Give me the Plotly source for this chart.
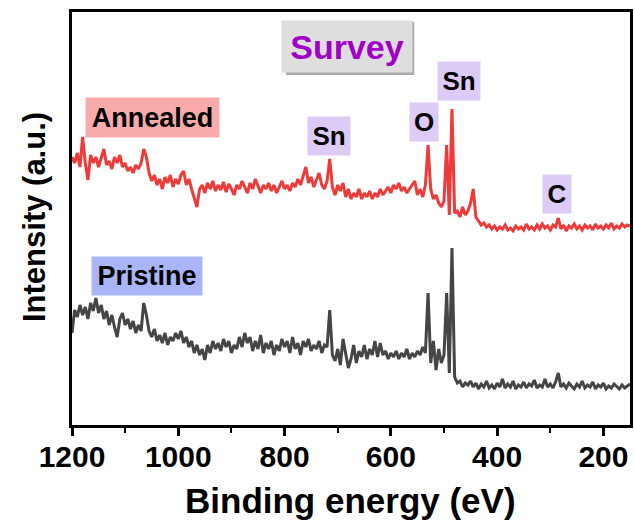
import plotly.graph_objects as go

# Binding energy grid (eV), 1200 -> 150 in 5 eV steps
energy = list(range(1200, 149, -5))

# Annealed (red) intensity, a.u., one value per grid point
annealed = [
    268, 262, 272, 258, 288, 262, 245, 270, 262, 268,   # 1200-1155
    258, 266, 276, 260, 264, 256, 268, 262, 270, 258,   # 1150-1105
    262, 254, 258, 252, 260, 256, 262, 276, 268, 252,   # 1100-1055
    244, 250, 240, 246, 236, 248, 242, 250, 238, 246,   # 1050-1005
    241, 250, 254, 240, 246, 236, 228, 218, 236, 240,   # 1000-955
    232, 242, 236, 244, 234, 240, 235, 243, 233, 241,   # 950-905
    236, 230, 240, 236, 244, 238, 232, 242, 236, 246,   # 900-855
    238, 232, 240, 236, 242, 234, 240, 232, 238, 244,   # 850-805
    236, 240, 234, 242, 238, 246, 240, 250, 258, 242,   # 800-755
    248, 238, 246, 252, 240, 236, 244, 266, 238, 230,   # 750-705
    240, 234, 242, 228, 236, 226, 232, 228, 236, 226,   # 700-655
    232, 228, 234, 226, 232, 228, 236, 230, 234, 238,   # 650-605
    232, 240, 236, 242, 234, 238, 232, 236, 240, 244,   # 600-555
    230, 236, 228, 240, 280, 236, 226, 230, 222, 218,   # 550-505
    224, 280, 210, 316, 212, 214, 208, 218, 210, 214,   # 500-455
    222, 236, 208, 204, 200, 202, 198, 200, 196, 199,   # 450-405
    195, 198, 196, 200, 195, 197, 194, 199, 196, 198,   # 400-355
    195, 201, 196, 198, 195, 200, 196, 201, 197, 199,   # 350-305
    195, 200, 198, 207, 196, 200, 194, 199, 197, 201,   # 300-255
    196, 199, 195, 200, 197, 199, 195, 201, 197, 199,   # 250-205
    196, 200, 197, 202, 196, 199, 197, 201, 198, 200,   # 200-155
    199,                                                # 150
]

# Pristine (dark grey) intensity, a.u.
pristine = [
    92, 115, 108, 120, 110, 118, 106, 122, 114, 127,    # 1200-1155
    112, 120, 106, 114, 100, 110, 98, 88, 106, 112,     # 1150-1105
    100, 106, 96, 104, 92, 100, 94, 122, 110, 94,       # 1100-1055
    88, 96, 84, 90, 82, 92, 80, 88, 84, 92,             # 1050-1005
    86, 94, 82, 88, 78, 84, 72, 80, 70, 76,             # 1000-955
    65, 80, 72, 84, 76, 82, 74, 86, 78, 84,             # 950-905
    72, 80, 76, 88, 78, 92, 82, 88, 74, 84,             # 900-855
    76, 90, 72, 82, 76, 84, 70, 80, 74, 86,             # 850-805
    78, 84, 72, 88, 76, 82, 70, 84, 78, 86,             # 800-755
    74, 80, 76, 84, 72, 80, 78, 115, 70, 64,            # 750-705
    76, 60, 86, 70, 57, 66, 80, 62, 74, 68,             # 700-655
    80, 66, 76, 70, 84, 68, 82, 70, 74, 66,             # 650-605
    72, 68, 74, 66, 72, 68, 76, 66, 72, 68,             # 600-555
    74, 70, 78, 72, 132, 62, 84, 55, 76, 62,            # 550-505
    70, 132, 52, 177, 48, 42, 44, 38, 42, 40,           # 500-455
    44, 38, 42, 36, 41, 38, 44, 37, 40, 36,             # 450-405
    42, 38, 46, 37, 41, 38, 44, 36, 40, 38,             # 400-355
    43, 37, 41, 39, 45, 37, 40, 38, 46, 38,             # 350-305
    41, 37, 43, 52, 38, 41, 37, 42, 39, 36,             # 300-255
    41, 38, 44, 37, 40, 38, 43, 36, 40, 38,             # 250-205
    42, 36, 39, 37, 41, 38, 36, 40, 37, 39,             # 200-155
    41,                                                 # 150
]

# Peak labels: text, energy (eV), label height (a.u.)
peak_labels = ["Sn", "O", "Sn", "C"]
peak_x = [717, 538, 472, 287]
peak_y = [289, 303, 344, 231]

FONT = "Liberation Sans, Arial, sans-serif"

fig = go.Figure()
fig.add_trace(go.Scatter(x=energy, y=pristine, mode="lines",
                         line=dict(color="#454545", width=3), showlegend=False))
fig.add_trace(go.Scatter(x=energy, y=annealed, mode="lines",
                         line=dict(color="#EF3A3A", width=3), showlegend=False))

ann = []
for t, x, y in zip(peak_labels, peak_x, peak_y):
    ann.append(dict(x=x, y=y, xref="x", yref="y", text="<b>%s</b>" % t,
                    showarrow=False, bgcolor="#DDCBF7",
                    font=dict(family=FONT, size=26, color="black"),
                    width=(40 if t == "Sn" else 26), height=36, borderpad=1))

ann.append(dict(x=1048, y=308, xref="x", yref="y", text="<b>Annealed</b>",
                showarrow=False, bgcolor="#F9ABAB",
                font=dict(family=FONT, size=27, color="black"),
                width=131, height=37, borderpad=1))
ann.append(dict(x=1058, y=149, xref="x", yref="y", text="<b>Pristine</b>",
                showarrow=False, bgcolor="#A9B5F7",
                font=dict(family=FONT, size=27, color="black"),
                width=108, height=36, borderpad=1))
ann.append(dict(x=682, y=379, xref="x", yref="y", text="<b>Survey</b>",
                showarrow=False, bgcolor="#DEDEDE",
                font=dict(family=FONT, size=34, color="#A100C6"),
                width=128, height=49, borderpad=1))

ann.append(dict(x=0.499, y=-0.182, xref="paper", yref="paper",
                xanchor="center", yanchor="middle",
                text="<b>Binding energy (eV)</b>", showarrow=False,
                font=dict(family=FONT, size=35, color="black")))
ann.append(dict(x=-0.066, y=0.504, xref="paper", yref="paper",
                xanchor="center", yanchor="middle",
                text="<b>Intensity (a.u.)</b>", showarrow=False, textangle=-90,
                font=dict(family=FONT, size=31, color="black")))

# shadow behind the Survey box
fig.add_shape(type="rect", xref="x", yref="y", x0=797, x1=556, y0=350, y1=403,
              fillcolor="#A9A9A9", line=dict(width=0), layer="below")

fig.update_layout(
    width=635, height=525,
    margin=dict(l=72, r=2, t=12, b=100),
    paper_bgcolor="white", plot_bgcolor="white",
    annotations=ann,
    xaxis=dict(range=[1200, 150], dtick=200, tick0=200,
               ticks="outside", ticklen=8, tickwidth=2.5, tickcolor="black",
               minor=dict(dtick=100, tick0=100, ticks="outside", ticklen=5,
                          tickwidth=2, tickcolor="black"),
               showline=True, linecolor="black", linewidth=2.5, mirror=True,
               showgrid=False, zeroline=False, ticklabelstandoff=-5,
               tickfont=dict(family=FONT, size=30, color="black"),
               tickprefix="<b>", ticksuffix="</b>"),
    yaxis=dict(range=[0, 413], showticklabels=False, ticks="",
               showline=True, linecolor="black", linewidth=2.5, mirror=True,
               showgrid=False, zeroline=False),
)

fig.write_html("out.html")
